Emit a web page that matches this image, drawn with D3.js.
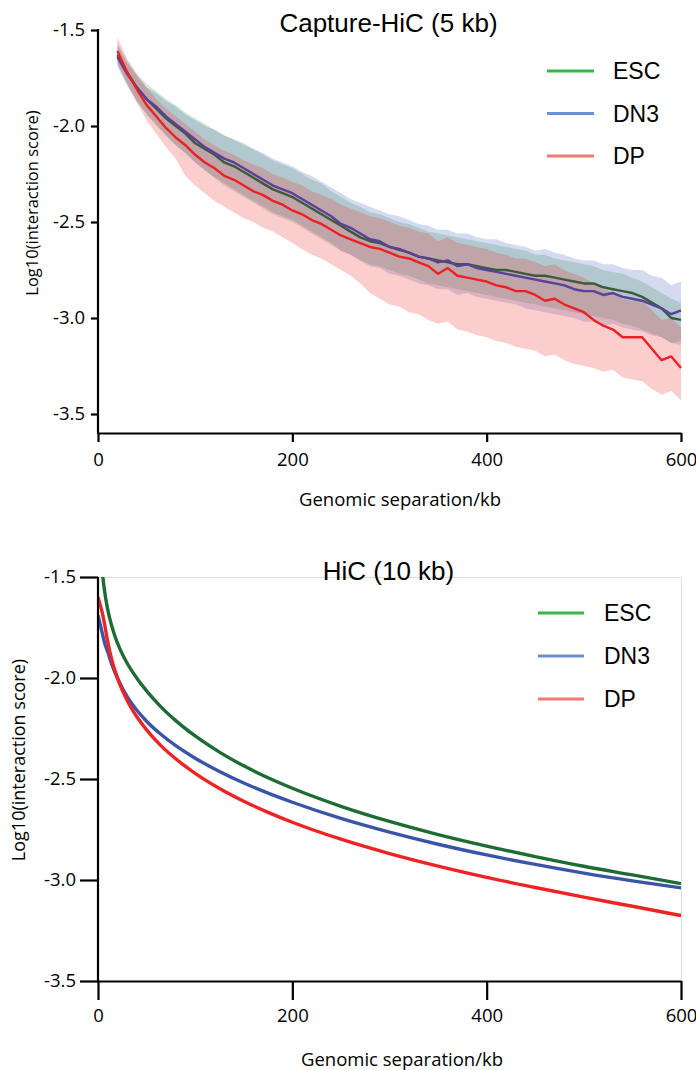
<!DOCTYPE html>
<html>
<head>
<meta charset="utf-8">
<script src="https://cdn.jsdelivr.net/npm/d3@7"></script>
<style>
  html, body { margin: 0; padding: 0; background: #fff; }
  svg { display: block; }
</style>
</head>
<body>
<svg id="chart" width="696" height="1070"></svg>
<script>
// ---------------- DATA ----------------
const seriesNames = ["ESC", "DN3", "DP"];
const xTicks = [0, 200, 400, 600];
const yTicks = [-1.5, -2.0, -2.5, -3.0, -3.5];

// Capture-HiC (5 kb): genomic separation (kb)
const capX = [20,30,40,50,60,70,80,90,100,110,120,130,140,150,160,170,180,190,200,210,220,230,240,250,260,270,280,290,300,310,320,330,340,350,360,370,380,390,400,410,420,430,440,450,460,470,480,490,500,510,520,530,540,550,560,570,580,590,600];

const capESC = [-1.63,-1.72,-1.80,-1.86,-1.91,-1.96,-2.00,-2.04,-2.09,-2.12,-2.15,-2.19,-2.21,-2.24,-2.27,-2.30,-2.33,-2.35,-2.37,-2.40,-2.43,-2.46,-2.49,-2.52,-2.55,-2.58,-2.60,-2.61,-2.63,-2.645,-2.66,-2.68,-2.69,-2.70,-2.71,-2.72,-2.72,-2.73,-2.74,-2.75,-2.75,-2.76,-2.77,-2.78,-2.78,-2.79,-2.80,-2.81,-2.82,-2.82,-2.84,-2.85,-2.86,-2.87,-2.89,-2.92,-2.95,-3.00,-3.01];
const capESClo = [-1.68,-1.78,-1.87,-1.94,-2.00,-2.05,-2.10,-2.14,-2.19,-2.23,-2.27,-2.31,-2.34,-2.37,-2.40,-2.43,-2.46,-2.48,-2.50,-2.53,-2.56,-2.59,-2.62,-2.65,-2.67,-2.70,-2.72,-2.73,-2.75,-2.77,-2.78,-2.80,-2.82,-2.83,-2.84,-2.85,-2.86,-2.87,-2.88,-2.89,-2.90,-2.91,-2.92,-2.93,-2.94,-2.95,-2.96,-2.97,-2.98,-2.99,-3.00,-3.01,-3.03,-3.04,-3.06,-3.08,-3.10,-3.13,-3.14];
const capESChi = [-1.57,-1.66,-1.73,-1.78,-1.82,-1.86,-1.89,-1.93,-1.96,-1.99,-2.02,-2.05,-2.07,-2.10,-2.12,-2.15,-2.18,-2.20,-2.22,-2.25,-2.28,-2.30,-2.34,-2.37,-2.40,-2.42,-2.45,-2.46,-2.48,-2.50,-2.51,-2.53,-2.55,-2.56,-2.57,-2.58,-2.59,-2.60,-2.61,-2.62,-2.63,-2.64,-2.65,-2.67,-2.67,-2.69,-2.70,-2.71,-2.72,-2.73,-2.75,-2.76,-2.77,-2.79,-2.81,-2.84,-2.87,-2.90,-2.92];

const capDN3 = [-1.64,-1.73,-1.80,-1.86,-1.90,-1.95,-1.99,-2.03,-2.07,-2.11,-2.14,-2.17,-2.19,-2.22,-2.25,-2.28,-2.31,-2.33,-2.35,-2.38,-2.41,-2.44,-2.47,-2.51,-2.53,-2.56,-2.59,-2.60,-2.63,-2.64,-2.66,-2.68,-2.69,-2.71,-2.70,-2.73,-2.72,-2.74,-2.75,-2.76,-2.77,-2.78,-2.79,-2.80,-2.81,-2.82,-2.83,-2.85,-2.86,-2.86,-2.88,-2.87,-2.89,-2.90,-2.91,-2.93,-2.95,-2.98,-2.96];
const capDN3lo = [-1.69,-1.79,-1.87,-1.94,-1.99,-2.05,-2.10,-2.14,-2.19,-2.23,-2.27,-2.30,-2.33,-2.36,-2.39,-2.42,-2.45,-2.47,-2.49,-2.52,-2.55,-2.58,-2.61,-2.65,-2.67,-2.70,-2.73,-2.74,-2.77,-2.78,-2.80,-2.82,-2.83,-2.85,-2.85,-2.88,-2.87,-2.89,-2.90,-2.91,-2.92,-2.93,-2.95,-2.96,-2.97,-2.98,-2.99,-3.00,-3.02,-3.02,-3.04,-3.03,-3.05,-3.06,-3.07,-3.09,-3.10,-3.13,-3.12];
const capDN3hi = [-1.58,-1.67,-1.74,-1.80,-1.83,-1.87,-1.90,-1.94,-1.97,-2.00,-2.02,-2.05,-2.07,-2.09,-2.12,-2.14,-2.17,-2.19,-2.21,-2.24,-2.26,-2.29,-2.32,-2.35,-2.38,-2.40,-2.42,-2.44,-2.46,-2.47,-2.49,-2.51,-2.52,-2.54,-2.54,-2.56,-2.56,-2.58,-2.59,-2.59,-2.61,-2.62,-2.63,-2.65,-2.64,-2.66,-2.67,-2.69,-2.70,-2.70,-2.72,-2.72,-2.74,-2.75,-2.75,-2.78,-2.79,-2.83,-2.81];

const capDP = [-1.61,-1.72,-1.81,-1.89,-1.95,-2.01,-2.06,-2.10,-2.15,-2.19,-2.22,-2.26,-2.28,-2.31,-2.34,-2.36,-2.39,-2.41,-2.44,-2.46,-2.49,-2.51,-2.54,-2.57,-2.59,-2.61,-2.63,-2.64,-2.66,-2.68,-2.69,-2.71,-2.73,-2.77,-2.74,-2.78,-2.79,-2.80,-2.81,-2.83,-2.84,-2.86,-2.86,-2.88,-2.91,-2.90,-2.93,-2.95,-2.97,-3.01,-3.04,-3.06,-3.10,-3.10,-3.10,-3.16,-3.22,-3.20,-3.26];
const capDPlo = [-1.67,-1.78,-1.88,-1.97,-2.04,-2.11,-2.17,-2.26,-2.31,-2.35,-2.39,-2.42,-2.45,-2.48,-2.50,-2.53,-2.55,-2.58,-2.61,-2.64,-2.67,-2.69,-2.72,-2.75,-2.78,-2.82,-2.87,-2.90,-2.93,-2.94,-2.97,-2.98,-3.01,-3.03,-3.02,-3.06,-3.07,-3.09,-3.10,-3.12,-3.13,-3.15,-3.16,-3.17,-3.20,-3.19,-3.22,-3.24,-3.25,-3.26,-3.28,-3.27,-3.31,-3.32,-3.33,-3.37,-3.40,-3.38,-3.43];
const capDPhi = [-1.54,-1.65,-1.73,-1.80,-1.86,-1.91,-1.95,-1.99,-2.03,-2.07,-2.10,-2.13,-2.15,-2.18,-2.20,-2.22,-2.25,-2.27,-2.29,-2.31,-2.34,-2.36,-2.38,-2.41,-2.43,-2.45,-2.47,-2.48,-2.50,-2.52,-2.53,-2.55,-2.56,-2.60,-2.58,-2.61,-2.62,-2.63,-2.64,-2.66,-2.67,-2.69,-2.69,-2.71,-2.73,-2.72,-2.75,-2.77,-2.79,-2.82,-2.85,-2.87,-2.90,-2.91,-2.91,-2.96,-3.01,-3.00,-3.05];

// HiC (10 kb)
const hicXesc = [2,3,5,8,12,17,23,30,40,50,65,80,100,125,150,175,200,250,300,350,400,450,500,550,600];
const hicESC  = [-1.29,-1.38,-1.50,-1.609,-1.704,-1.787,-1.861,-1.927,-2.001,-2.064,-2.144,-2.211,-2.287,-2.367,-2.435,-2.494,-2.546,-2.635,-2.710,-2.775,-2.832,-2.884,-2.932,-2.975,-3.018];
const hicX    = [0,3,5,7,10,14,20,30,40,50,65,80,100,125,150,175,200,250,300,350,400,450,500,550,600];
const hicDN3  = [-1.69,-1.75,-1.79,-1.83,-1.87,-1.93,-2.00,-2.092,-2.160,-2.214,-2.280,-2.335,-2.397,-2.463,-2.520,-2.570,-2.615,-2.695,-2.763,-2.823,-2.876,-2.923,-2.966,-3.004,-3.039];
const hicDP   = [-1.60,-1.65,-1.69,-1.74,-1.82,-1.907,-2.00,-2.111,-2.192,-2.257,-2.336,-2.400,-2.472,-2.547,-2.610,-2.665,-2.714,-2.798,-2.869,-2.931,-2.987,-3.037,-3.085,-3.130,-3.176];

// ---------------- STYLE ----------------
const legendColors = { ESC: "#3ab54a", DN3: "#6a8fd0", DP: "#f27a72" };
const capLineColors = { ESC: "#3d5b3c", DN3: "#59409b", DP: "#ee2025" };
const capBandColors = { ESC: "#2a8246", DN3: "#4664be", DP: "#ed3232" };
const capBandOpacity = { ESC: 0.2, DN3: 0.23, DP: 0.24 };
const hicLineColors = { ESC: "#1e6b34", DN3: "#3a55a8", DP: "#ee2424" };

const svg = d3.select("#chart");
const tickFont = "'Open Sans', sans-serif";
const titleFont = "'Liberation Sans', Arial, sans-serif";
const fmt = d => d.toFixed(1);

function zip(xs, ys) { return xs.map((x, i) => [x, ys[i]]); }

// ================= TOP CHART =================
{
  const x = d3.scaleLinear().domain([0, 600]).range([98, 681]);
  const y = d3.scaleLinear().domain([-3.5, -1.5]).range([414, 30]);
  const g = svg.append("g");
  const axisBottomY = 433;

  const bands = { ESC: [capESClo, capESChi], DN3: [capDN3lo, capDN3hi], DP: [capDPlo, capDPhi] };
  const means = { ESC: capESC, DN3: capDN3, DP: capDP };
  const area = d3.area().x(d => x(d[0])).y0(d => y(d[1])).y1(d => y(d[2]));
  ["DN3", "ESC", "DP"].forEach(k => {
    const [lo, hi] = bands[k];
    g.append("path")
      .datum(capX.map((v, i) => [v, lo[i], hi[i]]))
      .attr("d", area)
      .attr("fill", capBandColors[k])
      .attr("fill-opacity", capBandOpacity[k]);
  });
  const line = d3.line().x(d => x(d[0])).y(d => y(d[1]));
  ["ESC", "DN3", "DP"].forEach(k => {
    g.append("path")
      .datum(zip(capX, means[k]))
      .attr("d", line)
      .attr("fill", "none")
      .attr("stroke", capLineColors[k])
      .attr("stroke-width", 2.4)
      .attr("stroke-linejoin", "round");
  });

  // axes
  const yAxis = g.append("g").attr("transform", "translate(98,0)")
    .call(d3.axisLeft(y).tickValues(yTicks).tickFormat(fmt).tickSize(7).tickPadding(6).tickSizeOuter(0));
  yAxis.select(".domain").remove();
  g.append("line").attr("x1", 98).attr("x2", 98).attr("y1", 29).attr("y2", axisBottomY + 1)
    .attr("stroke", "#000").attr("stroke-width", 2.2);
  const xAxis = g.append("g").attr("transform", `translate(0,${axisBottomY})`)
    .call(d3.axisBottom(x).tickValues(xTicks).tickFormat(d3.format("d")).tickSize(9).tickPadding(11).tickSizeOuter(0));
  xAxis.select(".domain").attr("stroke-width", 2.2);
  [yAxis, xAxis].forEach(a => {
    a.selectAll(".tick line").attr("stroke", "#000").attr("stroke-width", 2.2);
    a.selectAll("text").attr("font-family", tickFont).attr("font-size", 18.5).attr("fill", "#000");
  });

  g.append("text").attr("x", 388.5).attr("y", 32).attr("text-anchor", "middle")
    .attr("font-family", titleFont).attr("font-size", 26).text("Capture-HiC (5 kb)");
  g.append("text").attr("x", 400).attr("y", 506).attr("text-anchor", "middle")
    .attr("font-family", tickFont).attr("font-size", 18.5).text("Genomic separation/kb");
  g.append("text").attr("transform", "translate(38,203) rotate(-90)").attr("text-anchor", "middle")
    .attr("font-family", tickFont).attr("font-size", 16.5).text("Log10(interaction score)");

  // legend
  const ly = d3.scalePoint().domain(seriesNames).range([71, 156]);
  seriesNames.forEach(k => {
    g.append("line").attr("x1", 547).attr("x2", 594).attr("y1", ly(k)).attr("y2", ly(k))
      .attr("stroke", legendColors[k]).attr("stroke-width", 3);
    g.append("text").attr("x", 613).attr("y", ly(k)).attr("dy", "0.36em")
      .attr("font-family", titleFont).attr("font-size", 23).text(k);
  });
}

// ================= BOTTOM CHART =================
{
  const x = d3.scaleLinear().domain([0, 600]).range([98, 681]);
  const y = d3.scaleLinear().domain([-3.5, -1.5]).range([981, 577]);
  const g = svg.append("g");

  // light frame
  g.append("path").attr("d", `M98,577.5H681.5V981`).attr("fill", "none")
    .attr("stroke", "#dddddd").attr("stroke-width", 1);

  g.append("clipPath").attr("id", "clipB").append("rect")
    .attr("x", 98).attr("y", 577).attr("width", 583).attr("height", 404);

  const line = d3.line().curve(d3.curveMonotoneX).x(d => x(d[0])).y(d => y(d[1]));
  const data = { ESC: zip(hicXesc, hicESC), DN3: zip(hicX, hicDN3), DP: zip(hicX, hicDP) };
  ["DN3", "DP", "ESC"].forEach(k => {
    g.append("path").datum(data[k]).attr("d", line)
      .attr("clip-path", "url(#clipB)")
      .attr("fill", "none").attr("stroke", hicLineColors[k]).attr("stroke-width", 3.4);
  });

  const yAxis = g.append("g").attr("transform", "translate(98,0)")
    .call(d3.axisLeft(y).tickValues(yTicks).tickFormat(fmt).tickSize(18).tickPadding(4).tickSizeOuter(0));
  yAxis.select(".domain").remove();
  g.append("line").attr("x1", 98).attr("x2", 98).attr("y1", 577).attr("y2", 982)
    .attr("stroke", "#000").attr("stroke-width", 2.2);
  const xAxis = g.append("g").attr("transform", "translate(0,981)")
    .call(d3.axisBottom(x).tickValues(xTicks).tickFormat(d3.format("d")).tickSize(19).tickPadding(9).tickSizeOuter(0));
  xAxis.select(".domain").attr("stroke-width", 2.2);
  [yAxis, xAxis].forEach(a => {
    a.selectAll(".tick line").attr("stroke", "#000").attr("stroke-width", 2.2);
    a.selectAll("text").attr("font-family", tickFont).attr("font-size", 18.5).attr("fill", "#000");
  });

  g.append("text").attr("x", 388.5).attr("y", 580).attr("text-anchor", "middle")
    .attr("font-family", titleFont).attr("font-size", 26).text("HiC (10 kb)");
  g.append("text").attr("x", 402).attr("y", 1066).attr("text-anchor", "middle")
    .attr("font-family", tickFont).attr("font-size", 18.5).text("Genomic separation/kb");
  g.append("text").attr("transform", "translate(25,760) rotate(-90)").attr("text-anchor", "middle")
    .attr("font-family", tickFont).attr("font-size", 18).text("Log10(interaction score)");

  const ly = d3.scalePoint().domain(seriesNames).range([613, 699]);
  seriesNames.forEach(k => {
    g.append("line").attr("x1", 538).attr("x2", 584).attr("y1", ly(k)).attr("y2", ly(k))
      .attr("stroke", legendColors[k]).attr("stroke-width", 3);
    g.append("text").attr("x", 604).attr("y", ly(k)).attr("dy", "0.36em")
      .attr("font-family", titleFont).attr("font-size", 23).text(k);
  });
}
</script>
</body>
</html>
